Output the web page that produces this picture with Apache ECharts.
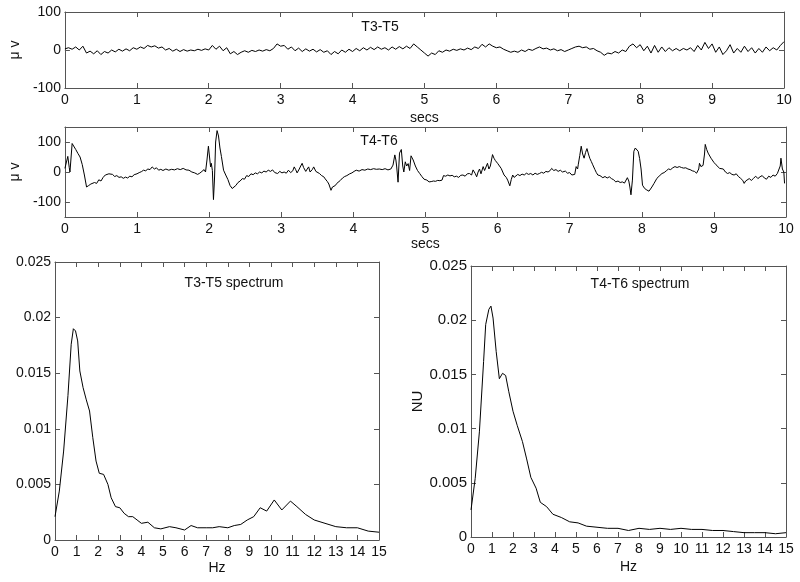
<!DOCTYPE html>
<html>
<head>
<meta charset="utf-8">
<script src="https://cdn.jsdelivr.net/npm/echarts@6/dist/echarts.min.js"></script>
<style>html,body{margin:0;padding:0;background:#fff}#c{width:800px;height:582px}</style>
</head>
<body>
<div id="c"></div>
<script>
// ---- data ----
const secTicks = [0,1,2,3,4,5,6,7,8,9,10];
const hzTicks = [0,1,2,3,4,5,6,7,8,9,10,11,12,13,14,15];
const t4t6YTicks = [-100, 0, 100];

// T3-T5 trace [sec, µV]
const t3t5 = [
[0.00,3],[0.05,6],[0.10,2],[0.15,8],[0.20,0],[0.25,10],[0.30,-8],[0.35,-3],[0.40,-10],[0.45,-2],
[0.50,-12],[0.55,-4],[0.60,-8],[0.65,0],[0.70,-5],[0.75,2],[0.80,-3],[0.85,3],[0.90,-2],[0.95,6],
[1.00,2],[1.05,8],[1.10,4],[1.15,12],[1.20,8],[1.25,11],[1.30,5],[1.35,8],[1.40,0],[1.45,4],
[1.50,-3],[1.55,2],[1.60,-4],[1.65,1],[1.70,-3],[1.75,0],[1.80,-2],[1.85,2],[1.90,-1],[1.95,3],
[2.00,0],[2.05,12],[2.10,2],[2.15,10],[2.20,-2],[2.25,6],[2.30,-10],[2.35,-4],[2.40,-12],[2.45,-6],
[2.50,-2],[2.55,-6],[2.60,-1],[2.65,-4],[2.70,0],[2.75,-3],[2.80,1],[2.85,-2],[2.90,4],[2.95,16],
[3.00,10],[3.05,12],[3.10,2],[3.15,8],[3.20,-2],[3.25,5],[3.30,-4],[3.35,3],[3.40,-3],[3.45,2],
[3.50,-5],[3.55,1],[3.60,-6],[3.65,-2],[3.70,-12],[3.75,-4],[3.80,-10],[3.85,0],[3.90,-6],[3.95,2],
[4.00,-4],[4.05,4],[4.10,-2],[4.15,6],[4.20,0],[4.25,7],[4.30,1],[4.35,8],[4.40,2],[4.45,6],
[4.50,0],[4.55,8],[4.60,2],[4.65,9],[4.70,3],[4.75,10],[4.80,4],[4.85,16],[4.90,8],[4.95,0],
[5.00,-8],[5.05,-16],[5.10,-8],[5.15,-12],[5.20,-2],[5.25,-6],[5.30,0],[5.35,-3],[5.40,2],[5.45,-1],
[5.50,3],[5.55,0],[5.60,5],[5.65,1],[5.70,8],[5.75,4],[5.80,15],[5.85,8],[5.90,16],[5.95,10],
[6.00,6],[6.05,8],[6.10,2],[6.15,-2],[6.20,-6],[6.25,-3],[6.30,-6],[6.35,0],[6.40,-4],[6.45,2],
[6.50,-1],[6.55,4],[6.60,8],[6.65,3],[6.70,5],[6.75,0],[6.80,3],[6.85,-2],[6.90,1],[6.95,-4],
[7.00,0],[7.05,4],[7.10,8],[7.15,10],[7.20,6],[7.25,8],[7.30,2],[7.35,4],[7.40,-2],[7.45,-6],
[7.50,-14],[7.55,-8],[7.60,-10],[7.65,-4],[7.70,-8],[7.75,0],[7.80,-4],[7.85,10],[7.90,16],[7.95,6],
[8.00,14],[8.05,-2],[8.10,10],[8.15,-8],[8.20,12],[8.25,-6],[8.30,8],[8.35,-4],[8.40,6],[8.45,-2],
[8.50,4],[8.55,-2],[8.60,4],[8.65,0],[8.70,6],[8.75,-4],[8.80,12],[8.85,0],[8.90,20],[8.95,4],
[9.00,16],[9.05,-6],[9.10,8],[9.15,-12],[9.20,-2],[9.25,14],[9.30,-8],[9.35,4],[9.40,-6],[9.45,10],
[9.50,-4],[9.55,6],[9.60,-8],[9.65,4],[9.70,-6],[9.75,8],[9.80,-2],[9.85,6],[9.90,0],[9.95,12],[10.00,22]
];

// T4-T6 trace [sec, µV]
const t4t6 = [
[0.00,12],[0.02,18],[0.04,52],[0.06,15],[0.07,0],[0.09,0],[0.10,95],[0.12,90],[0.15,75],[0.18,62],[0.21,50],[0.24,25],[0.27,-10],[0.30,-50],
[0.33,-45],[0.36,-40],[0.38,-44],[0.41,-35],[0.44,-38],[0.47,-26],[0.50,-30],[0.53,-18],[0.56,-10],[0.58,-16],[0.61,-6],[0.63,-12],[0.66,-8],
[0.69,-15],[0.72,-12],[0.75,-18],[0.78,-16],[0.81,-21],[0.84,-17],[0.87,-20],[0.90,-14],[0.93,-16],[0.96,-9],[1.00,-6],[1.03,-2],[1.06,1],
[1.09,6],[1.12,4],[1.15,10],[1.18,8],[1.21,17],[1.24,10],[1.27,14],[1.30,6],[1.33,9],[1.36,5],[1.40,10],[1.44,6],[1.48,9],[1.52,7],[1.56,11],
[1.60,8],[1.64,12],[1.68,7],[1.72,6],[1.76,0],[1.80,-3],[1.84,-8],[1.87,-4],[1.90,2],[1.93,8],[1.95,0],[1.97,40],[1.99,86],[2.01,40],[2.02,17],
[2.03,29],[2.045,5],[2.06,-92],[2.075,-20],[2.09,100],[2.11,138],[2.13,120],[2.15,80],[2.17,52],[2.20,6],[2.23,-10],[2.26,-25],[2.29,-45],
[2.32,-55],[2.34,-57],[2.37,-45],[2.40,-35],[2.43,-30],[2.46,-22],[2.49,-24],[2.52,-12],[2.55,-15],[2.58,-6],[2.61,-9],[2.64,-3],[2.67,-6],
[2.70,0],[2.73,-3],[2.76,3],[2.79,0],[2.82,6],[2.85,2],[2.88,7],[2.91,-2],[2.95,-5],[2.98,2],[3.01,-3],[3.04,0],[3.07,-4],[3.10,6],[3.13,-2],
[3.16,4],[3.18,17],[3.20,8],[3.22,-3],[3.25,10],[3.27,20],[3.29,29],[3.31,15],[3.34,2],[3.36,10],[3.38,17],[3.40,0],[3.41,-6],[3.43,8],
[3.45,17],[3.48,2],[3.50,-3],[3.53,-5],[3.56,-12],[3.59,-16],[3.61,-23],[3.64,-32],[3.66,-40],[3.69,-61],[3.71,-50],[3.72,-46],[3.75,-45],
[3.77,-38],[3.79,-34],[3.82,-28],[3.85,-20],[3.88,-15],[3.91,-12],[3.95,-6],[3.98,-3],[4.01,2],[4.04,6],[4.08,3],[4.12,8],[4.16,6],[4.20,10],
[4.24,8],[4.28,11],[4.32,9],[4.36,10],[4.40,8],[4.44,11],[4.48,7],[4.52,10],[4.55,23],[4.575,57],[4.59,40],[4.60,20],[4.62,-34],[4.64,63],
[4.665,75],[4.685,20],[4.70,0],[4.72,34],[4.74,20],[4.76,28],[4.78,5],[4.80,54],[4.83,40],[4.86,20],[4.89,5],[4.92,-5],[4.95,-15],[4.98,-24],
[5.02,-27],[5.05,-33],[5.08,-32],[5.11,-30],[5.14,-31],[5.17,-28],[5.20,-29],[5.23,-27],[5.25,-12],[5.28,-14],[5.31,-10],[5.34,-13],[5.37,-11],
[5.40,-16],[5.43,-14],[5.46,-18],[5.49,-11],[5.52,-10],[5.55,-14],[5.58,-6],[5.61,-5],[5.64,-10],[5.66,7],[5.69,-5],[5.71,-16],[5.73,0],
[5.75,10],[5.77,-6],[5.80,18],[5.82,5],[5.84,0],[5.86,29],[5.88,10],[5.90,20],[5.93,58],[5.95,46],[5.97,38],[6.00,29],[6.02,32],[6.05,12],
[6.07,15],[6.09,-10],[6.12,-18],[6.14,-27],[6.17,-46],[6.19,-25],[6.21,-10],[6.23,-18],[6.25,-15],[6.28,-8],[6.31,-12],[6.34,-7],[6.37,-10],
[6.40,-4],[6.43,-8],[6.46,-5],[6.49,-10],[6.52,-4],[6.55,-8],[6.58,-5],[6.61,-1],[6.64,-4],[6.67,2],[6.70,0],[6.73,5],[6.75,12],[6.78,5],
[6.81,8],[6.84,2],[6.87,6],[6.90,0],[6.94,3],[6.97,-4],[7.00,-2],[7.03,-10],[7.05,-4],[7.07,-8],[7.09,18],[7.11,10],[7.12,26],[7.14,55],
[7.16,86],[7.18,60],[7.20,46],[7.22,65],[7.24,78],[7.26,60],[7.28,45],[7.30,35],[7.32,24],[7.35,8],[7.37,-2],[7.39,-10],[7.42,-12],[7.44,-8],
[7.46,-19],[7.49,-15],[7.52,-20],[7.55,-16],[7.58,-22],[7.61,-26],[7.64,-33],[7.67,-30],[7.70,-35],[7.73,-33],[7.76,-37],[7.78,-38],[7.80,-19],
[7.82,-30],[7.835,-50],[7.85,-76],[7.87,-27],[7.89,69],[7.91,80],[7.93,78],[7.95,69],[7.97,45],[7.99,10],[8.01,-44],[8.04,-55],[8.07,-60],
[8.10,-64],[8.12,-58],[8.14,-50],[8.17,-38],[8.21,-21],[8.24,-14],[8.28,-5],[8.31,-2],[8.34,4],[8.37,10],[8.40,8],[8.43,14],[8.46,18],
[8.49,15],[8.52,18],[8.55,15],[8.58,13],[8.61,14],[8.64,10],[8.67,8],[8.70,4],[8.73,2],[8.76,-4],[8.78,-10],[8.79,10],[8.80,29],[8.82,18],
[8.85,22],[8.87,60],[8.88,92],[8.90,75],[8.92,63],[8.94,58],[8.96,46],[8.98,42],[9.00,32],[9.03,24],[9.05,28],[9.08,12],[9.10,7],[9.13,10],
[9.16,0],[9.19,-5],[9.22,-2],[9.25,-8],[9.28,-10],[9.31,-6],[9.34,-15],[9.37,-21],[9.40,-28],[9.42,-38],[9.44,-30],[9.46,-33],[9.49,-22],
[9.52,-28],[9.55,-21],[9.58,-14],[9.61,-22],[9.64,-16],[9.67,-12],[9.70,-20],[9.73,-24],[9.76,-14],[9.79,-18],[9.82,-10],[9.85,-14],[9.88,-5],
[9.90,-8],[9.92,20],[9.93,46],[9.95,10],[9.97,0],[9.98,-38]
];

// T3-T5 spectrum [Hz, NU]
const t3t5Spec = [
[0,0.0021],[0.2,0.0044],[0.4,0.008],[0.6,0.013],[0.75,0.0176],[0.85,0.019],[0.95,0.0188],[1.05,0.0179],[1.15,0.0152],[1.3,0.0137],
[1.45,0.0126],[1.6,0.0116],[1.75,0.0092],[1.9,0.0071],[2.05,0.006],[2.25,0.0059],[2.45,0.005],[2.6,0.0038],[2.8,0.003],[3.0,0.0029],
[3.2,0.0024],[3.4,0.0021],[3.6,0.0021],[3.8,0.0018],[4.0,0.0015],[4.3,0.0016],[4.6,0.0011],[4.9,0.001],[5.3,0.0012],[5.6,0.0011],
[6.0,0.0009],[6.3,0.0013],[6.6,0.0011],[7.0,0.0011],[7.3,0.0011],[7.6,0.0012],[8.0,0.0011],[8.3,0.0013],[8.6,0.0014],[8.9,0.0018],
[9.2,0.0021],[9.5,0.0029],[9.8,0.0026],[10.15,0.0036],[10.5,0.0027],[10.9,0.0035],[11.2,0.003],[11.6,0.0023],[12.0,0.0018],[12.5,0.0015],
[13.0,0.0012],[13.5,0.0011],[14.0,0.0011],[14.5,0.0008],[15.0,0.0007]
];

// T4-T6 spectrum [Hz, NU]
const t4t6Spec = [
[0,0.0025],[0.2,0.0054],[0.4,0.0097],[0.6,0.0162],[0.7,0.0196],[0.85,0.021],[0.95,0.0213],[1.05,0.0202],[1.2,0.0171],[1.35,0.0146],
[1.5,0.0151],[1.65,0.0149],[1.8,0.0134],[2.0,0.0116],[2.2,0.0103],[2.45,0.0088],[2.65,0.0072],[2.85,0.0055],[3.1,0.0045],[3.3,0.0032],
[3.6,0.0028],[3.9,0.0021],[4.3,0.0018],[4.7,0.0014],[5.1,0.0013],[5.5,0.001],[6.0,0.0009],[6.5,0.0008],[7.0,0.0008],[7.5,0.0006],
[8.0,0.0008],[8.5,0.0007],[9.0,0.0008],[9.5,0.0007],[10.0,0.0008],[10.5,0.0007],[11.0,0.0007],[11.5,0.0006],[12.0,0.0006],[12.5,0.0005],
[13.0,0.0004],[13.5,0.0004],[14.0,0.0004],[14.5,0.0003],[15.0,0.0004]
];

// ---- chart ----
const FONT = 'Liberation Sans, Arial, sans-serif';
const AX = '#555';
const TXT = '#111';

const grids = [
  {left: 53, right: 16, top: 12, height: 76},
  {left: 54, right: 14, top: 127, height: 90},
  {left: 55, right: 421, top: 262, height: 278},
  {left: 471, right: 14, top: 266, height: 271}
];

function xAx(gi, max, ticks, name, gap, fs, main) {
  return {
    type: 'value', gridIndex: gi, min: 0, max: max, interval: 1,
    position: main ? 'bottom' : 'top',
    axisLine: {show: true, onZero: false, lineStyle: {color: AX, width: 1}},
    axisTick: {show: true, inside: true, length: 5, lineStyle: {color: AX}},
    axisLabel: {show: main, margin: 5, fontFamily: FONT, fontSize: fs, color: TXT},
    splitLine: {show: false},
    name: main ? name : '', nameLocation: 'middle', nameGap: gap,
    nameTextStyle: {fontFamily: FONT, fontSize: fs, color: TXT}
  };
}
function yAx(gi, min, max, interval, name, gap, fs, main, custom) {
  const o = {
    type: 'value', gridIndex: gi, min: min, max: max, interval: interval,
    position: main ? 'left' : 'right',
    axisLine: {show: true, onZero: false, lineStyle: {color: AX, width: 1}},
    axisTick: {show: true, inside: true, length: 5, lineStyle: {color: AX}},
    axisLabel: {show: main, margin: 4, fontFamily: FONT, fontSize: fs, color: TXT},
    splitLine: {show: false},
    name: main ? name : '', nameLocation: 'middle', nameGap: gap, nameRotate: 90,
    nameTextStyle: {fontFamily: FONT, fontSize: fs, color: TXT}
  };
  if (custom) {
    o.axisTick.customValues = custom;
    o.axisLabel.customValues = custom;
  }
  return o;
}

const xAxes = [
  xAx(0, 10, secTicks, 'secs', 23, 14, true), xAx(0, 10, secTicks, '', 0, 14, false),
  xAx(1, 10, secTicks, 'secs', 20, 14, true), xAx(1, 10, secTicks, '', 0, 14, false),
  xAx(2, 15, hzTicks, 'Hz', 21, 14, true), xAx(2, 15, hzTicks, '', 0, 14, false),
  xAx(3, 15, hzTicks, 'Hz', 23, 14, true), xAx(3, 15, hzTicks, '', 0, 14, false)
];
const yAxes = [
  yAx(0, -100, 100, 100, 'μ v', 34, 14, true), yAx(0, -100, 100, 100, '', 0, 14, false),
  yAx(1, -150, 150, 50, 'μ v', 33, 14, true, t4t6YTicks), yAx(1, -150, 150, 50, '', 0, 14, false, t4t6YTicks),
  yAx(2, 0, 0.025, 0.005, '', 0, 14, true), yAx(2, 0, 0.025, 0.005, '', 0, 14, false),
  yAx(3, 0, 0.025, 0.005, 'NU', 46, 15, true), yAx(3, 0, 0.025, 0.005, '', 0, 14, false)
];

function lineSeries(data, xi, yi) {
  return {
    type: 'line', data: data, xAxisIndex: xi, yAxisIndex: yi,
    showSymbol: false, symbol: 'none', smooth: false, clip: true,
    lineStyle: {color: '#000', width: 1}, silent: true
  };
}

function label(text, x, y) {
  return {type: 'text', x: x, y: y, style: {text: text, fill: TXT, font: '14px ' + FONT, textAlign: 'center', textVerticalAlign: 'middle'}};
}

const chart = echarts.init(document.getElementById('c'), null, {renderer: 'canvas'});
chart.setOption({
  animation: false,
  backgroundColor: '#fff',
  grid: grids.map(g => Object.assign({containLabel: false}, g)),
  xAxis: xAxes,
  yAxis: yAxes,
  series: [
    lineSeries(t3t5, 0, 0),
    lineSeries(t4t6, 2, 2),
    lineSeries(t3t5Spec, 4, 4),
    lineSeries(t4t6Spec, 6, 6)
  ],
  graphic: [
    label('T3-T5', 380, 27),
    label('T4-T6', 379, 141),
    label('T3-T5 spectrum', 234, 283),
    label('T4-T6 spectrum', 640, 284)
  ]
});
</script>
</body>
</html>
